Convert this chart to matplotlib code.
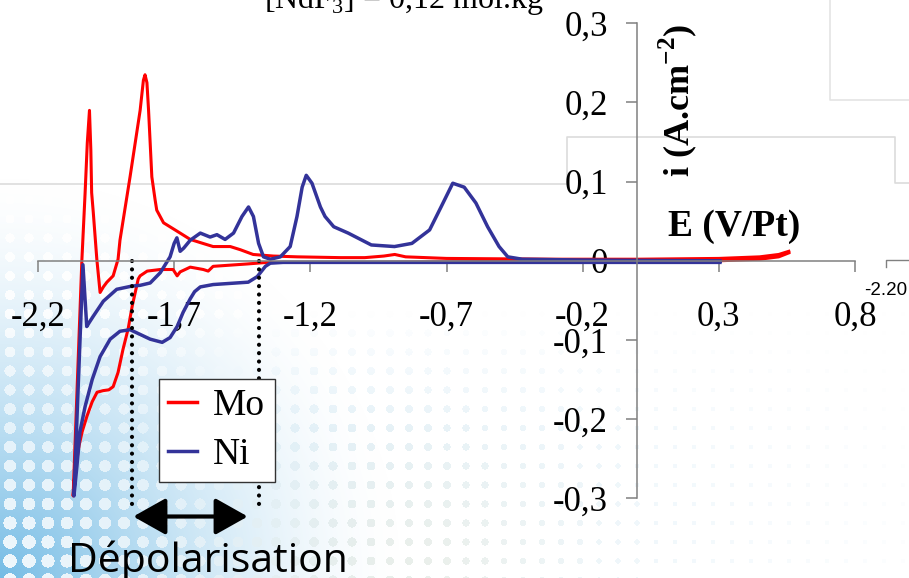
import numpy as np
import matplotlib
matplotlib.use('Agg')
import matplotlib.pyplot as plt
from matplotlib.ticker import FuncFormatter

W, H = 909, 578

# Mo electrode: cathodic sweep from +0.56 V, then anodic back
mo_E = [0.557, 0.52, 0.45, 0.30, 0.0, -0.5, -1.0, -1.358, -1.432, -1.557, -1.575, -1.593,
        -1.641, -1.678, -1.689, -1.704, -1.751, -1.799, -1.825, -1.832, -1.854, -1.869,
        -1.888, -1.906, -1.924, -1.940, -1.961, -1.983, -2.001, -2.020, -2.038, -2.049,
        -2.064, -2.071,
        -2.039, -2.027, -2.019, -2.011, -2.006, -2.003, -1.997, -1.984, -1.978, -1.972,
        -1.960, -1.947, -1.924, -1.906, -1.899, -1.862, -1.825, -1.813, -1.807, -1.800,
        -1.794, -1.782, -1.770, -1.764, -1.739, -1.678, -1.641, -1.604, -1.557, -1.494,
        -1.457, -1.410, -1.336, -1.248, -1.090, -1.0, -0.93, -0.89, -0.85, -0.7, -0.3,
        0.0, 0.3, 0.45, 0.52, 0.557]
mo_i = [0.010, 0.005, 0.002, 0.000, -0.001, -0.001, -0.002, -0.002, -0.004, -0.007, -0.013, -0.011,
        -0.008, -0.014, -0.019, -0.011, -0.011, -0.013, -0.019, -0.023, -0.057, -0.086,
        -0.112, -0.141, -0.159, -0.163, -0.164, -0.166, -0.178, -0.196, -0.216, -0.233,
        -0.266, -0.297,
        0.000, 0.086, 0.149, 0.190, 0.140, 0.086, 0.061, 0.002, -0.019, -0.040,
        -0.033, -0.027, -0.019, 0.002, 0.026, 0.106, 0.190, 0.228, 0.235, 0.225,
        0.190, 0.106, 0.077, 0.064, 0.048, 0.035, 0.027, 0.023, 0.018, 0.018,
        0.014, 0.008, 0.006, 0.005, 0.004, 0.004, 0.006, 0.008, 0.005, 0.003, 0.002,
        0.002, 0.003, 0.005, 0.008, 0.012]

# Ni electrode: cathodic sweep from +0.30 V, then anodic back
ni_E = [0.304, 0.0, -0.5, -1.0, -1.30, -1.347, -1.365, -1.395, -1.428, -1.557, -1.604, -1.625,
        -1.641, -1.667, -1.689, -1.715, -1.744, -1.788, -1.825, -1.862, -1.899, -1.935,
        -1.972, -2.001, -2.027, -2.046, -2.057, -2.068,
        -2.035, -2.021, -2.012, -1.997, -1.960, -1.911, -1.856, -1.825, -1.788, -1.751,
        -1.715, -1.700, -1.690, -1.678, -1.665, -1.641, -1.604, -1.568, -1.543, -1.513,
        -1.482, -1.451, -1.427, -1.409, -1.390, -1.372, -1.347, -1.310, -1.274, -1.249,
        -1.230, -1.215, -1.194, -1.163, -1.146, -1.114, -1.061, -0.976, -0.891, -0.827,
        -0.762, -0.720, -0.677, -0.635, -0.592, -0.549, -0.507, -0.475, -0.422, -0.2, 0.304]
ni_i = [-0.002, -0.002, -0.002, -0.002, -0.002, -0.003, -0.007, -0.020, -0.027, -0.030, -0.033, -0.039,
        -0.048, -0.065, -0.083, -0.097, -0.103, -0.099, -0.093, -0.087, -0.089, -0.099,
        -0.121, -0.150, -0.184, -0.216, -0.259, -0.297,
        -0.005, -0.083, -0.078, -0.070, -0.051, -0.036, -0.032, -0.031, -0.028, -0.015,
        0.005, 0.022, 0.029, 0.012, 0.016, 0.026, 0.035, 0.030, 0.033, 0.027,
        0.035, 0.056, 0.068, 0.056, 0.022, 0.005, 0.002, 0.005, 0.018, 0.056,
        0.093, 0.108, 0.098, 0.068, 0.056, 0.043, 0.035, 0.020, 0.018, 0.022,
        0.039, 0.068, 0.098, 0.093, 0.073, 0.043, 0.018, 0.005, 0.002, 0.001, 0.000]

depol_E = [-1.855, -1.39]
x_ticks = [-2.2, -1.7, -1.2, -0.7, -0.2, 0.3, 0.8]
y_ticks = [-0.3, -0.2, -0.1, 0.0, 0.1, 0.2, 0.3]

plt.rcParams['mathtext.fontset'] = 'custom'
plt.rcParams['mathtext.rm'] = 'Liberation Serif'
plt.rcParams['mathtext.bf'] = 'Liberation Serif:bold'


def fx(x):
    return x / float(W)


def fy(y):
    return 1 - y / float(H)


def comma(v, pos):
    if abs(v) < 1e-9:
        return '0'
    return ('%g' % round(v, 1)).replace('.', ',')


def slide_background():
    yy, xx = np.mgrid[0:H, 0:W].astype(float)
    d = np.hypot(xx, H - yy)
    s = 19.0
    cx = (np.floor(xx / s) + 0.5) * s
    cy = (np.floor(yy / s) + 0.5) * s
    r = 2.5 + 4.5 * np.clip(1 - np.hypot(cx, H - cy) / 650, 0, 1)
    dot = np.hypot(xx - cx, yy - cy) < r
    bg = 0.75 * np.clip(1 - d / 400, 0, 1) ** 1.5
    dt = 0.25 * np.clip(1 - d / 950, 0, 1) * np.clip((yy - 310) / 120, 0, 1)
    amount = np.where(dot, dt * (1 - bg / 0.75) + 0.1 * bg, bg)
    blue = np.array([70, 165, 220]) / 255.
    green = np.array([110, 140, 100]) / 255.
    g = 0.9 * np.exp(-((xx - 420) ** 2 / (2 * 110 ** 2) + (yy - 578) ** 2 / (2 * 90 ** 2)))
    g = np.where(dot, g, 0)[..., None]
    col = blue * (1 - g) + green * g
    return 1 - amount[..., None] * (1 - col)


def main():
    fig = plt.figure(figsize=(W / 100., H / 100.), dpi=100, facecolor='white')

    bg = fig.add_axes([0, 0, 1, 1], zorder=0)
    bg.imshow(slide_background(), extent=(0, W, H, 0), aspect='auto', interpolation='bilinear')
    bg.plot([0, 567, 567, 895, 895, W], [184, 184, 137, 137, 183, 183], color='#dcdcdc', lw=1.2)
    bg.plot([830, 830, W], [0, 100, 100], color='#e4e4e4', lw=1.2)
    bg.plot([886, 886, W], [267, 260, 260], color='#808080', lw=1.0)
    bg.set_xlim(0, W)
    bg.set_ylim(H, 0)
    bg.axis('off')

    ax = fig.add_axes([fx(38), fy(498.3), fx(855) - fx(38), fy(23.3) - fy(498.3)], zorder=1)
    ax.patch.set_alpha(0)

    ax.plot(mo_E, mo_i, color='#ff0000', lw=2.2, label='Mo', solid_joinstyle='round')
    ax.plot(ni_E, ni_i, color='#333399', lw=2.5, label='Ni', solid_joinstyle='round')

    for e in depol_E:
        ax.plot([e, e], [0, -0.316], color='black', lw=3.0, linestyle=(0, (0.01, 2.0)),
                dash_capstyle='round', clip_on=False)
    ax.annotate('', xy=(-1.43, -0.323), xytext=(-1.85, -0.323),
                arrowprops=dict(arrowstyle='<|-|>,head_length=0.8,head_width=0.45',
                                color='black', lw=3, mutation_scale=25, shrinkA=0, shrinkB=0),
                annotation_clip=False)

    ax.set_xlim(-2.2, 0.8)
    ax.set_ylim(-0.3, 0.3)
    ax.set_xticks(x_ticks)
    ax.set_yticks(y_ticks)
    ax.xaxis.set_major_formatter(FuncFormatter(comma))
    ax.yaxis.set_major_formatter(FuncFormatter(comma))

    for side in ['top', 'right']:
        ax.spines[side].set_visible(False)
    ax.spines['left'].set_position(('data', 0))
    ax.spines['bottom'].set_position(('data', 0))
    for side in ['left', 'bottom']:
        ax.spines[side].set_color('#808080')
        ax.spines[side].set_linewidth(1.1)
    ax.tick_params(axis='both', direction='out', length=8, width=1.1, color='#808080',
                   labelsize=25)
    ax.tick_params(axis='x', pad=21)
    ax.tick_params(axis='y', pad=13)
    for lab in ax.get_xticklabels() + ax.get_yticklabels():
        lab.set_family('Liberation Serif')

    leg = ax.legend(loc='upper left', bbox_to_anchor=(fx(159), fy(379)),
                    bbox_transform=fig.transFigure, prop={'family': 'Liberation Serif', 'size': 27},
                    handlelength=0.75, handletextpad=0.45, borderpad=0.25, labelspacing=0.4,
                    fancybox=False, framealpha=1, borderaxespad=0)
    leg.get_frame().set_edgecolor('#333333')
    leg.get_frame().set_linewidth(1.0)
    for ln in leg.get_lines():
        ln.set_linewidth(2.5)

    fig.text(fx(678), fy(100), r'i (A.cm$^{\mathbf{-2}}$)', rotation=90, ha='center', va='center',
             family='Liberation Serif', weight='bold', size=26)
    fig.text(fx(734), fy(226), 'E (V/Pt)', ha='center', va='center',
             family='Liberation Serif', weight='bold', size=27)
    fig.text(fx(264), fy(8), r'[NdF$_\mathrm{3}$] = 0,12 mol.kg', ha='left',
             va='baseline', family='Liberation Serif', size=23)
    fig.text(fx(864), fy(295), '-2.20', ha='left', va='baseline',
             family='Liberation Sans', size=13.5)
    fig.text(fx(68), fy(572), u'Dépolarisation', ha='left', va='baseline',
             family='Open Sans', size=29.5)

    fig.savefig('out.png', dpi=100)


if __name__ == '__main__':
    main()
